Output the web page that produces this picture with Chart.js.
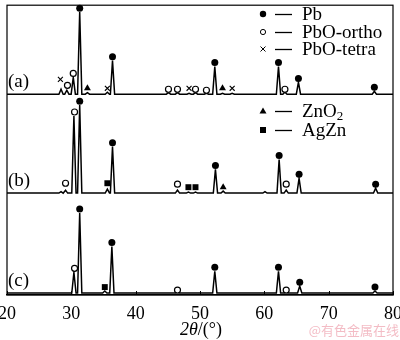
<!DOCTYPE html>
<html><head><meta charset="utf-8">
<script src="https://cdn.jsdelivr.net/npm/chart.js@4.4.1/dist/chart.umd.min.js"></script>
<style>html,body{margin:0;padding:0;background:#fff}canvas{display:block}</style>
</head><body>
<canvas id="c" width="400" height="340"></canvas>
<script>
// ---- data ----
const angleTicks = [20, 30, 40, 50, 60, 70, 80];
const sampleLabels = ['(a)', '(b)', '(c)'];
const sampleOffsets = [203, 103, 2];

// [2θ, peak height above the sample baseline]
const peaksA = [[28.4,5],[29.3,4],[30.3,17],[31.3,83],[32.5,1.5],[35.6,2],[36.4,34],[45.1,1.5],[46.5,1.5],[48.3,1],[49.3,1.5],[51.0,1],[52.3,28],[53.5,1],[55.0,1],[62.2,28],[63.2,2],[65.3,12],[77.1,3]];
const peaksB = [[28.4,1.5],[29.1,3],[30.4,78],[31.3,89],[35.6,4],[36.4,47],[46.5,3],[48.2,1],[49.3,1],[52.4,24],[53.6,2],[60.1,1.5],[62.3,34],[63.4,3],[65.4,15],[77.3,5]];
const peaksC = [[30.4,21],[31.3,81],[35.2,2],[36.3,47],[46.5,1],[52.3,22],[62.2,22],[63.4,1],[65.5,7],[77.2,2]];

// phase markers [2θ, intensity]
const markPb    = [[31.3,290],[36.4,241],[52.3,235],[62.2,235],[65.3,219],[77.1,210],
                   [31.3,196],[36.4,154],[52.4,131],[62.3,141],[65.4,122],[77.3,112],
                   [31.3,87],[36.3,53],[52.3,28],[62.2,28],[65.5,13],[77.2,8]];
const markPbOo  = [[29.4,212],[30.3,224],[45.1,208],[46.5,208],[49.3,208],[51.0,207],[63.2,208],
                   [29.1,113],[30.5,185],[46.5,112],[63.4,112],
                   [30.5,27],[46.5,5],[63.4,5]];
const markPbOt  = [[28.3,218],[35.6,209],[48.3,209],[55.0,209]];
const markZnO2  = [[32.5,209],[53.5,209],[53.6,109]];
const markAgZn  = [[35.6,113],[48.2,109],[49.3,109],[35.2,8]];

const legendNames = ['Pb', 'PbO-ortho', 'PbO-tetra', 'ZnO', 'AgZn'];
const xTitleItalic = '2θ';
const xTitleRest = '/(°)';
const watermark = '@有色金属在线';

// ---- build ----
const HALF = 0.33;
function trace(peaks, base) {
  const pts = [{x: 20, y: base}];
  peaks.forEach(([p, h]) => {
    pts.push({x: p - HALF, y: base}, {x: p, y: base + h}, {x: p + HALF, y: base});
  });
  pts.push({x: 80, y: base});
  return pts;
}
const xy = arr => arr.map(([x, y]) => ({x, y}));
const SERIF = '"Liberation Serif", "Times New Roman", serif';

const lineDs = (data) => ({type: 'scatter', data, showLine: true, pointRadius: 0, borderColor: '#000', borderWidth: 1.5, tension: 0, order: 2, clip: false});
const markDs = (data, style, radius, fill, bw) => ({type: 'scatter', data: xy(data), pointStyle: style, pointRadius: radius, backgroundColor: fill, borderColor: '#000', borderWidth: bw, order: 0, clip: false});

const overlay = {
  id: 'overlay',
  afterDraw(chart) {
    const ctx = chart.ctx, a = chart.chartArea, xs = chart.scales.x, ys = chart.scales.y;
    ctx.save();
    ctx.strokeStyle = '#000'; ctx.lineWidth = 1.2;
    ctx.strokeRect(a.left, a.top, a.right - a.left, a.bottom - a.top);
    // inward ticks
    ctx.lineWidth = 1;
    angleTicks.forEach(t => {
      const px = Math.round(xs.getPixelForValue(t)) + 0.5;
      ctx.beginPath(); ctx.moveTo(px, a.bottom); ctx.lineTo(px, a.bottom - 4); ctx.stroke();
    });
    // sample labels
    ctx.fillStyle = '#000';
    ctx.font = '19px ' + SERIF;
    ctx.textBaseline = 'middle'; ctx.textAlign = 'left';
    sampleLabels.forEach((s, i) => {
      ctx.fillText(s, a.left + 1, ys.getPixelForValue(sampleOffsets[i]) - 12);
    });
    // legend
    const rows = [14, 32, 49, 111, 130];
    const sx = 263, lx0 = 275, lx1 = 292, tx = 302;
    rows.forEach((ry, i) => {
      ctx.strokeStyle = '#000'; ctx.fillStyle = '#000'; ctx.lineWidth = 1;
      ctx.beginPath();
      if (i === 0) { ctx.arc(sx, ry, 3.2, 0, Math.PI * 2); ctx.fill(); }
      else if (i === 1) { ctx.arc(sx, ry, 2.6, 0, Math.PI * 2); ctx.fillStyle = '#fff'; ctx.fill(); ctx.stroke(); }
      else if (i === 2) { ctx.moveTo(sx-2.5, ry-2.5); ctx.lineTo(sx+2.5, ry+2.5); ctx.moveTo(sx+2.5, ry-2.5); ctx.lineTo(sx-2.5, ry+2.5); ctx.stroke(); }
      else if (i === 3) { ctx.moveTo(sx, ry-3.5); ctx.lineTo(sx+3.5, ry+2.5); ctx.lineTo(sx-3.5, ry+2.5); ctx.closePath(); ctx.fill(); }
      else { ctx.rect(sx-3, ry-3, 6, 6); ctx.fill(); }
      ctx.beginPath(); ctx.lineWidth = 1.3; ctx.moveTo(lx0, ry + 0.5); ctx.lineTo(lx1, ry + 0.5); ctx.stroke();
      ctx.fillStyle = '#000';
      ctx.font = '19px ' + SERIF; ctx.textBaseline = 'middle';
      ctx.fillText(legendNames[i], tx, ry + 1);
      if (i === 3) {
        const w = ctx.measureText(legendNames[i]).width;
        ctx.font = '13px ' + SERIF;
        ctx.fillText('2', tx + w, ry + 6);
      }
    });
    // x title
    ctx.font = 'italic 18px ' + SERIF;
    const w1 = ctx.measureText(xTitleItalic).width;
    ctx.font = '18px ' + SERIF;
    const w2 = ctx.measureText(xTitleRest).width;
    const cx = 201 - (w1 + w2) / 2;
    ctx.textBaseline = 'middle';
    ctx.font = 'italic 18px ' + SERIF;
    ctx.fillText(xTitleItalic, cx, 330);
    ctx.font = '18px ' + SERIF;
    ctx.fillText(xTitleRest, cx + w1, 330);
    // watermark
    ctx.font = '13px "Noto Sans CJK SC", sans-serif';
    ctx.fillStyle = 'rgba(238,160,172,0.7)';
    ctx.textAlign = 'right';
    ctx.fillText(watermark, 399, 330);
    ctx.restore();
  }
};

new Chart(document.getElementById('c'), {
  type: 'scatter',
  data: {
    datasets: [
      markDs(markPb, 'circle', 3.5, '#000', 0),
      markDs(markPbOo, 'circle', 3, '#fff', 1.2),
      markDs(markPbOt, 'crossRot', 3.5, '#000', 1.1),
      markDs(markZnO2, 'triangle', 4, '#000', 0),
      markDs(markAgZn, 'rect', 4.2, '#000', 0),
      lineDs(trace(peaksA, sampleOffsets[0])),
      lineDs(trace(peaksB, sampleOffsets[1])),
      lineDs(trace(peaksC, sampleOffsets[2]))
    ]
  },
  options: {
    responsive: false, animation: false, events: [],
    layout: {padding: {top: 2, left: 7, right: 7, bottom: 0}},
    plugins: {legend: {display: false}, tooltip: {enabled: false}},
    scales: {
      x: {
        type: 'linear', min: 20, max: 80,
        afterBuildTicks: s => { s.ticks = angleTicks.map(v => ({value: v})); },
        afterFit: s => { s.height = 45; s.paddingLeft = 0; s.paddingRight = 0; },
        grid: {drawOnChartArea: false, drawTicks: false},
        border: {display: true, color: '#000', width: 1.2},
        ticks: {color: '#000', font: {family: SERIF, size: 18}, padding: 8, maxRotation: 0, autoSkip: false}
      },
      y: {type: 'linear', min: 0, max: 293, display: false}
    }
  },
  plugins: [overlay]
});
</script>
</body></html>
